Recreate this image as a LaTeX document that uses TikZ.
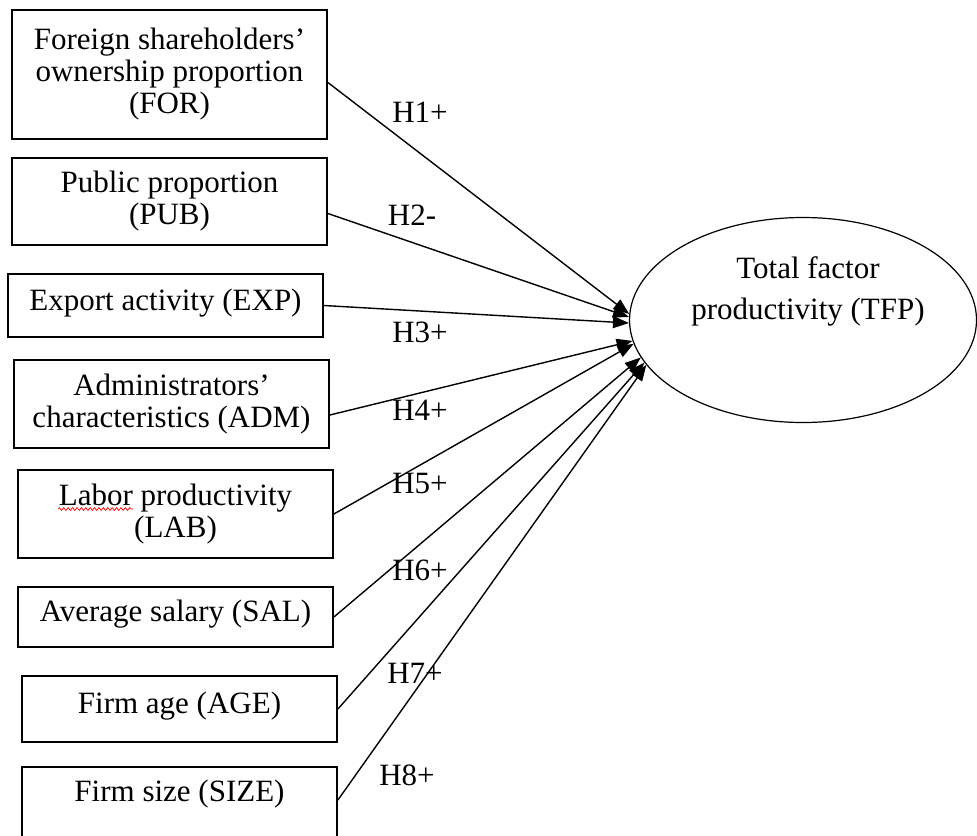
\documentclass[tikz,border=0pt]{standalone}
\usepackage{fontspec}
\setmainfont{Liberation Serif}
\usetikzlibrary{arrows.meta,shapes.geometric,decorations.pathmorphing}

\begin{document}
\begin{tikzpicture}[x=0.5pt,y=-0.5pt,
    every node/.style={font=\fontsize{15.5}{16}\selectfont},
    box/.style={draw,line width=0.9pt,minimum width=157.5pt,align=center,inner sep=0pt},
    hyp/.style={-{Triangle[length=8pt,width=6pt]},line width=0.7pt}]
    \useasboundingbox (0,0) rectangle (977,835);

    % determinants (left column)
    \node[box,minimum height=64.5pt] (for) at (169.5,74.5) {Foreign shareholders'\\ownership proportion\\(FOR)};
    \node[box,minimum height=43.5pt] (pub) at (169.5,201.5) {Public proportion\\(PUB)};
    \node[box,minimum height=31.5pt,text depth=6pt] (exp) at (165.5,305.5) {Export activity (EXP)};
    \node[box,minimum height=44pt] (adm) at (171.5,404) {Administrators'\\characteristics (ADM)};
    \node[box,minimum height=44pt] (lab) at (175.5,514) {Labor productivity\\(LAB)};
    \node[box,minimum height=30pt,text depth=6pt] (sal) at (175.5,617) {Average salary (SAL)};
    \node[box,minimum height=33pt,text depth=6pt] (age) at (179.5,709) {Firm age (AGE)};
    \node[box,minimum height=40pt] (size) at (179.5,807) {Firm size (SIZE)\\\mbox{}};

    % spell-check squiggle under "Labor"
    \draw[red,line width=0.35pt,decorate,decoration={snake,amplitude=0.7pt,segment length=2.2pt}]
        (58,509) -- (133,509);

    % dependent variable
    \node[draw,ellipse,line width=0.6pt,inner sep=0pt,minimum width=173.5pt,minimum height=102.5pt] (tfp) at (803,320) {};
    \node[align=center,font=\fontsize{15.5}{20.5}\selectfont] (tfptext) at (808,291.5) {Total factor\\productivity (TFP)};

    % hypotheses
    \draw[hyp] ([yshift=-4pt]for.east) -- (tfp.178);
    \draw[hyp] ([yshift=-6pt]pub.east) -- (tfp.179);
    \draw[hyp] (exp.east) -- (tfp.181);
    \draw[hyp] ([yshift=-5.5pt]adm.east) -- (tfp.187);
    \draw[hyp] (lab.east) -- (tfp.188);
    \draw[hyp] (sal.east) -- (tfp.193);
    \draw[hyp] (age.east) -- (tfp.195);
    \draw[hyp] ([yshift=3.5pt]size.east) -- (tfp.196);

    \node (h1) at (420,112) {H1+};
    \node (h2) at (412,215) {H2-};
    \node (h3) at (420,332) {H3+};
    \node (h4) at (420,410) {H4+};
    \node (h5) at (420,483) {H5+};
    \node (h6) at (420,570) {H6+};
    \node (h7) at (415,673) {H7+};
    \node (h8) at (407,775) {H8+};
\end{tikzpicture}
\end{document}
